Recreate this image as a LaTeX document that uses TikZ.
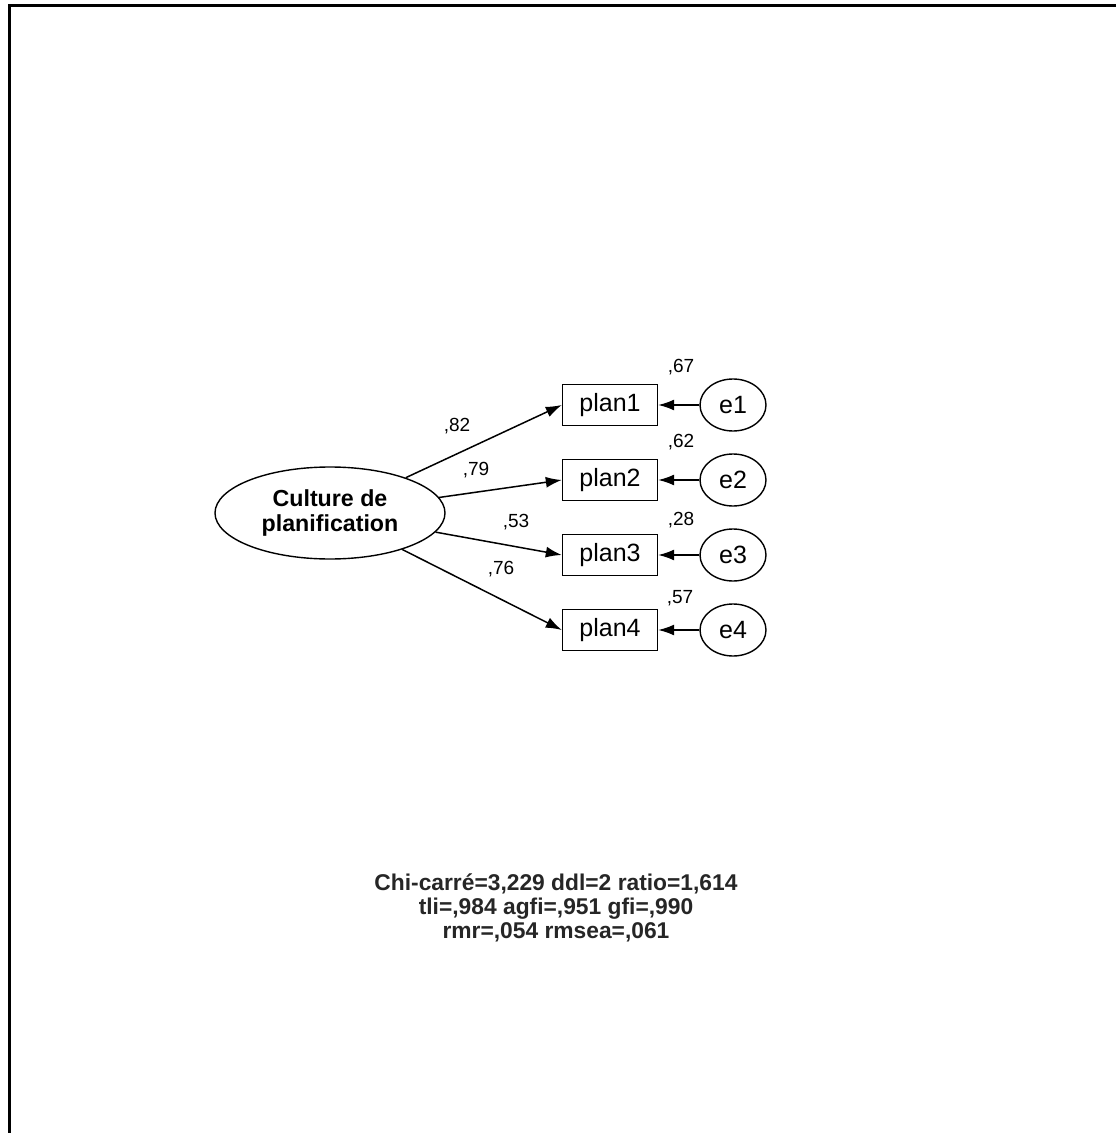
\documentclass[tikz,border=0pt]{standalone}
\usepackage{fontspec}
\setmainfont{Liberation Sans}
\usetikzlibrary{arrows.meta,positioning,shapes.geometric}
\tikzset{
  latent/.style={ellipse,draw,line width=0.7pt,minimum width=115pt,
    minimum height=46pt,inner sep=0pt,align=center,
    font=\fontsize{11.6}{12.8}\selectfont\bfseries},
  indicator/.style={rectangle,draw,line width=0.7pt,minimum width=47.5pt,
    minimum height=20.5pt,inner sep=0pt,font=\fontsize{12.5}{14}\selectfont},
  errterm/.style={ellipse,draw,line width=0.7pt,minimum width=33pt,
    minimum height=26pt,inner sep=0pt,font=\fontsize{12.5}{14}\selectfont},
  weight/.style={inner sep=0pt,font=\fontsize{9.5}{11}\selectfont},
  fitstats/.style={align=center,inner sep=0pt,text=black!85,
    font=\fontsize{11.4}{11.9}\selectfont\bfseries},
  loading/.style={-{Latex[length=8pt,width=5.5pt]},line width=0.75pt}
}
\begin{document}
\begin{tikzpicture}[x=0.5pt,y=-0.5pt]
  \useasboundingbox (0,0) rectangle (1116,1133);
  % frame
  \draw[line width=1.5pt] (1116,6) -- (9,6) -- (9,1133);
  % factor
  \node[latent] (cult) at (330,513) {Culture de\\planification};
  % items and errors
  \node[indicator] (p1) at (610,405) {plan1};
  \node[indicator] (p2) at (610,480) {plan2};
  \node[indicator] (p3) at (610,555) {plan3};
  \node[indicator] (p4) at (610,630) {plan4};
  \node[errterm] (e1) at (733,405) {e1};
  \node[errterm] (e2) at (733,480) {e2};
  \node[errterm] (e3) at (733,555) {e3};
  \node[errterm] (e4) at (733,630) {e4};
  \foreach \i in {1,...,4}{
    \draw[loading] (cult) -- (p\i.west);
    \draw[loading] (e\i) -- (p\i);
  }
  % standardized weights
  \node[weight] (w1) at (457,426) {,82};
  \node[weight] (w2) at (476,470) {,79};
  \node[weight] (w3) at (516,522) {,53};
  \node[weight] (w4) at (501,569) {,76};
  % squared multiple correlations
  \node[weight] (r1) at (681,367) {,67};
  \node[weight] (r2) at (681,442) {,62};
  \node[weight] (r3) at (681,520) {,28};
  \node[weight] (r4) at (680,598) {,57};
  % fit indices
  \node[fitstats] (fit) at (556,908)
    {Chi-carré=3,229 ddl=2 ratio=1,614\\tli=,984 agfi=,951 gfi=,990\\rmr=,054 rmsea=,061};
\end{tikzpicture}
\end{document}
